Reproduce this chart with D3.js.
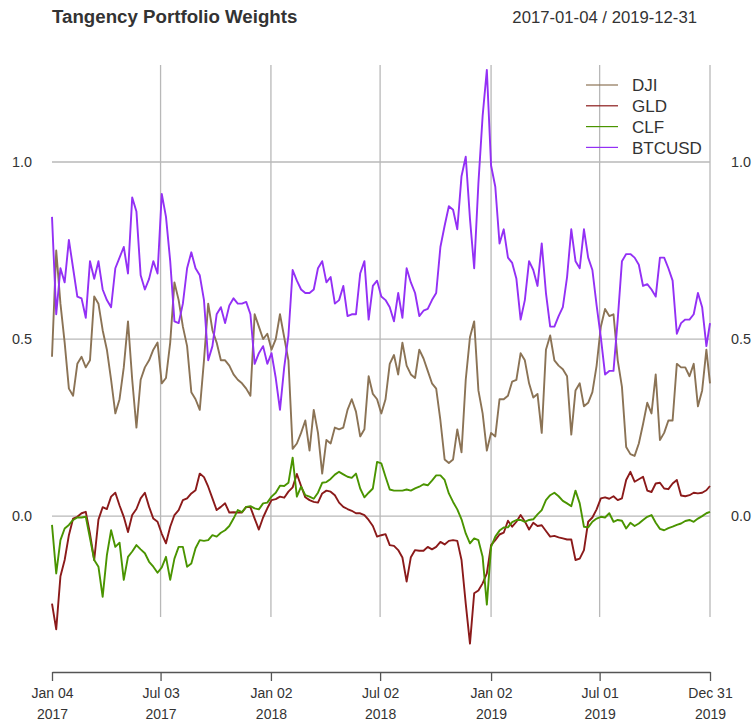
<!DOCTYPE html>
<html>
<head>
<meta charset="utf-8">
<script src="https://cdn.jsdelivr.net/npm/d3@7"></script>
<style>
  body { margin: 0; background: #fff; }
  text { font-family: "Liberation Sans", Arial, sans-serif; fill: #333; }
</style>
</head>
<body>
<svg id="chart" width="755" height="724"></svg>
<script>
// weekly samples, last one is 2019-12-31
var startDate = "2017-01-04", endDate = "2019-12-31";
var seriesNames = ["DJI", "GLD", "CLF", "BTCUSD"];

var dji = [0.45,0.75,0.60,0.49,0.36,0.34,0.43,0.45,0.42,0.44,
  0.62,0.60,0.525,0.47,0.385,0.29,0.33,0.42,0.55,0.385,
  0.25,0.385,0.42,0.44,0.47,0.49,0.375,0.39,0.49,0.66,
  0.61,0.535,0.48,0.35,0.33,0.30,0.44,0.60,0.525,0.49,
  0.44,0.44,0.425,0.40,0.385,0.375,0.36,0.34,0.57,0.535,
  0.50,0.515,0.47,0.50,0.57,0.505,0.44,0.19,0.205,0.235,
  0.27,0.185,0.30,0.235,0.12,0.215,0.205,0.25,0.245,0.25,
  0.30,0.33,0.295,0.225,0.245,0.395,0.345,0.33,0.29,0.33,
  0.43,0.455,0.40,0.49,0.425,0.40,0.39,0.47,0.445,0.41,
  0.375,0.36,0.27,0.16,0.15,0.16,0.245,0.18,0.385,0.505,
  0.55,0.355,0.29,0.185,0.235,0.225,0.33,0.33,0.34,0.38,
  0.385,0.46,0.44,0.375,0.335,0.345,0.235,0.47,0.51,0.44,
  0.425,0.415,0.395,0.23,0.355,0.375,0.31,0.32,0.35,0.425,
  0.535,0.585,0.565,0.57,0.44,0.365,0.195,0.175,0.17,0.205,
  0.26,0.32,0.29,0.40,0.215,0.235,0.27,0.27,0.43,0.42,
  0.42,0.395,0.43,0.31,0.355,0.47,0.375];

var gld = [-0.247,-0.32,-0.17,-0.124,-0.054,-0.007,-0.002,0.008,0.012,-0.05,
  -0.124,-0.01,0.025,0.02,0.055,0.066,0.03,-0.002,-0.045,0.003,
  0.02,0.05,0.066,0.026,-0.007,-0.016,-0.05,-0.077,-0.03,0.003,
  0.017,0.045,0.05,0.064,0.073,0.12,0.11,0.083,0.05,0.017,
  0.026,0.036,0.01,0.011,0.01,0.01,0.026,0.025,-0.007,-0.038,
  -0.004,0.022,0.045,0.048,0.055,0.052,0.069,0.081,0.119,0.085,
  0.053,0.045,0.04,0.038,0.064,0.072,0.069,0.059,0.038,0.026,
  0.02,0.015,0.008,0.008,0.003,-0.011,-0.028,-0.058,-0.054,-0.051,
  -0.082,-0.084,-0.096,-0.117,-0.185,-0.116,-0.096,-0.098,-0.098,-0.087,
  -0.094,-0.087,-0.073,-0.08,-0.07,-0.068,-0.07,-0.124,-0.247,-0.36,
  -0.218,-0.21,-0.19,-0.162,-0.082,-0.068,-0.052,-0.047,-0.013,-0.03,
  -0.016,0.003,-0.015,-0.038,-0.019,-0.028,-0.026,-0.042,-0.058,-0.056,
  -0.06,-0.063,-0.066,-0.066,-0.124,-0.12,-0.096,-0.016,-0.004,0.019,
  0.05,0.053,0.049,0.056,0.045,0.05,0.102,0.125,0.097,0.104,
  0.111,0.072,0.068,0.092,0.094,0.078,0.076,0.092,0.102,0.058,
  0.056,0.059,0.066,0.064,0.066,0.073,0.085];

var clf = [-0.025,-0.162,-0.068,-0.035,-0.025,-0.011,-0.004,-0.004,-0.002,-0.063,
  -0.124,-0.143,-0.228,-0.11,-0.04,-0.087,-0.075,-0.18,-0.115,-0.10,
  -0.082,-0.094,-0.105,-0.129,-0.143,-0.16,-0.145,-0.115,-0.18,-0.12,
  -0.087,-0.087,-0.143,-0.134,-0.091,-0.068,-0.07,-0.068,-0.054,-0.058,
  -0.047,-0.04,-0.028,-0.007,0.017,0.011,0.026,0.028,0.022,0.019,
  0.036,0.038,0.055,0.066,0.086,0.085,0.094,0.165,0.055,0.083,
  0.059,0.055,0.049,0.066,0.094,0.096,0.105,0.117,0.125,0.118,
  0.111,0.108,0.12,0.078,0.053,0.066,0.078,0.153,0.149,0.111,
  0.075,0.072,0.072,0.072,0.075,0.072,0.078,0.083,0.09,0.087,
  0.10,0.115,0.115,0.102,0.064,0.04,0.019,-0.009,-0.049,-0.077,
  -0.063,-0.068,-0.115,-0.25,-0.087,-0.058,-0.041,-0.032,-0.032,-0.017,
  -0.011,-0.011,-0.016,-0.011,-0.009,0.005,0.017,0.045,0.059,0.066,
  0.056,0.043,0.036,0.028,0.072,0.036,-0.03,-0.032,-0.016,-0.007,
  -0.002,-0.004,0.008,-0.016,-0.011,-0.013,-0.035,-0.019,-0.028,-0.021,
  -0.011,-0.002,0.003,-0.019,-0.036,-0.04,-0.034,-0.03,-0.025,-0.021,
  -0.014,-0.011,-0.016,-0.007,0.0,0.008,0.012];

var btcusd = [0.845,0.57,0.70,0.66,0.78,0.70,0.62,0.615,0.56,0.72,
  0.67,0.72,0.64,0.61,0.59,0.70,0.73,0.76,0.685,0.90,
  0.86,0.68,0.64,0.67,0.72,0.685,0.91,0.845,0.72,0.55,
  0.545,0.60,0.70,0.745,0.70,0.68,0.61,0.44,0.48,0.57,
  0.59,0.545,0.595,0.615,0.60,0.60,0.605,0.57,0.43,0.46,
  0.48,0.43,0.46,0.39,0.30,0.42,0.51,0.695,0.665,0.64,
  0.63,0.63,0.64,0.70,0.72,0.66,0.675,0.60,0.61,0.65,
  0.565,0.57,0.57,0.685,0.72,0.555,0.65,0.665,0.62,0.61,
  0.59,0.55,0.63,0.56,0.70,0.66,0.63,0.565,0.58,0.585,
  0.61,0.63,0.76,0.82,0.875,0.865,0.81,0.96,1.015,0.84,
  0.70,0.94,1.13,1.26,0.99,0.93,0.77,0.81,0.73,0.715,
  0.67,0.555,0.61,0.72,0.695,0.65,0.77,0.63,0.535,0.535,
  0.565,0.59,0.675,0.81,0.72,0.70,0.81,0.73,0.695,0.595,
  0.505,0.40,0.41,0.41,0.555,0.72,0.74,0.74,0.73,0.71,
  0.65,0.655,0.64,0.62,0.73,0.73,0.70,0.665,0.515,0.545,
  0.555,0.555,0.57,0.63,0.59,0.48,0.545];

var yTicks = [0, 0.5, 1.0];
var xTickDates = ["2017-01-04","2017-07-03","2018-01-02","2018-07-02","2019-01-02","2019-07-01","2019-12-31"];
var xTickLabels = [["Jan 04","2017"],["Jul 03","2017"],["Jan 02","2018"],["Jul 02","2018"],
                   ["Jan 02","2019"],["Jul 01","2019"],["Dec 31","2019"]];

var colors = ["#8b7355", "#8b1a1a", "#4a9400", "#9330f5"];

var parse = d3.timeParse("%Y-%m-%d");
var dates = d3.range(btcusd.length - 1)
  .map(function(i){ return d3.timeDay.offset(parse(startDate), 7 * i); })
  .concat([parse(endDate)]);

var svg = d3.select("#chart");
var x = d3.scaleTime().domain([parse(startDate), parse(endDate)]).range([52, 710]);
var y = d3.scaleLinear().domain([-0.285, 1.274]).range([617, 65]);

// grid
var grid = svg.append("g").attr("stroke", "#b8b8b8").attr("stroke-width", 1.3);
grid.selectAll(".hg").data(yTicks).enter().append("line")
  .attr("x1", x.range()[0]).attr("x2", x.range()[1])
  .attr("y1", function(d){ return y(d); }).attr("y2", function(d){ return y(d); });
grid.selectAll(".vg").data(xTickDates.slice(1)).enter().append("line")
  .attr("x1", function(d){ return x(parse(d)); }).attr("x2", function(d){ return x(parse(d)); })
  .attr("y1", y.range()[0]).attr("y2", y.range()[1]);

// y labels both sides
svg.append("g").attr("transform", "translate(32,0)")
  .call(d3.axisLeft(y).tickValues(yTicks).tickSize(0).tickPadding(0).tickFormat(d3.format(".1f")))
  .call(function(g){ g.select(".domain").remove(); })
  .selectAll("text").attr("font-size", 14.4).attr("fill", "#333")
  .attr("font-family", "Liberation Sans, Arial, sans-serif");
svg.append("g").attr("transform", "translate(731,0)")
  .call(d3.axisRight(y).tickValues(yTicks).tickSize(0).tickPadding(0).tickFormat(d3.format(".1f")))
  .call(function(g){ g.select(".domain").remove(); })
  .selectAll("text").attr("font-size", 14.4).attr("fill", "#333")
  .attr("font-family", "Liberation Sans, Arial, sans-serif");

// x axis at the bottom
var xAxis = svg.append("g").attr("transform", "translate(0,672)")
  .call(d3.axisBottom(x).tickValues(xTickDates.map(parse)).tickSize(9).tickSizeOuter(0).tickFormat(""));
xAxis.selectAll("path,line").attr("stroke", "#555").attr("stroke-width", 1.3);
xAxis.selectAll(".tick").each(function(d, i){
  var t = d3.select(this).select("text")
    .attr("font-size", 14).attr("fill", "#333").attr("y", 0).attr("dy", null)
    .attr("font-family", "Liberation Sans, Arial, sans-serif");
  t.append("tspan").attr("x", 0).attr("y", 26).text(xTickLabels[i][0]);
  t.append("tspan").attr("x", 0).attr("y", 47).text(xTickLabels[i][1]);
});

// series
var allSeries = [dji, gld, clf, btcusd];
var line = d3.line()
  .x(function(d, i){ return x(dates[i]); })
  .y(function(d){ return y(d); });
svg.append("g").selectAll("path").data(allSeries).enter().append("path")
  .attr("fill", "none")
  .attr("stroke", function(d, i){ return colors[i]; })
  .attr("stroke-width", 1.9)
  .attr("stroke-linejoin", "round")
  .attr("d", line);

// legend
var legend = svg.append("g");
seriesNames.forEach(function(name, i){
  var ly = 85 + i * 20.8;
  legend.append("line").attr("x1", 586).attr("x2", 618).attr("y1", ly).attr("y2", ly)
    .attr("stroke", colors[i]).attr("stroke-width", 1.2);
  legend.append("text").attr("x", 632).attr("y", ly).attr("dy", "0.36em")
    .attr("font-size", 17).text(name);
});

// titles
svg.append("text").attr("x", 52).attr("y", 23).attr("font-size", 18.7)
  .attr("font-weight", "bold").attr("fill", "#222").text("Tangency Portfolio Weights");
svg.append("text").attr("x", 697).attr("y", 23).attr("font-size", 16.7)
  .attr("text-anchor", "end").text(startDate + " / " + endDate);
</script>
</body>
</html>
